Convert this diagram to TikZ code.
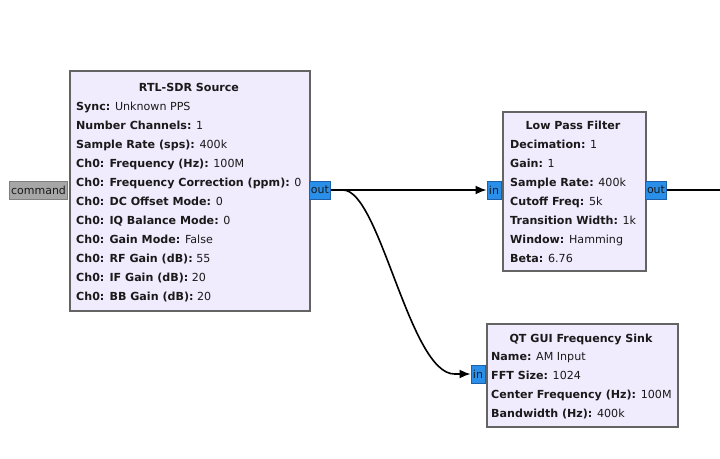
\documentclass[tikz,border=0pt]{standalone}
\usepackage{fontspec}
\setmainfont{DejaVu Sans}
\usetikzlibrary{arrows.meta,calc}
\definecolor{blkfill}{HTML}{F0EBFD}
\definecolor{blkline}{HTML}{646464}
\definecolor{portblue}{HTML}{2A8FE8}
\definecolor{portblueline}{HTML}{1D5FA8}
\definecolor{portgray}{HTML}{A6A6A6}
\definecolor{portgrayline}{HTML}{7F7F7F}
\definecolor{txt}{HTML}{1A1A1A}
\tikzset{
  blk/.style={draw=blkline, fill=blkfill, line width=2pt, anchor=north west, inner sep=0pt},
  lbl/.style={anchor=base west, inner sep=0pt, text=txt, font=\fontsize{11.1}{13}\selectfont},
  ttl/.style={anchor=base, inner sep=0pt, text=txt, font=\fontsize{11.1}{13}\selectfont\bfseries},
  bport/.style={draw=portblueline, fill=portblue, line width=1pt, inner sep=0pt, text=txt, font=\fontsize{11}{13}\selectfont},
  gport/.style={draw=portgrayline, fill=portgray, line width=1pt, inner sep=0pt, text=txt, font=\fontsize{11}{13}\selectfont},
  wire/.style={line width=1.6pt, draw=black},
  arr/.style={wire, -{Latex[length=11pt,width=9pt]}}
}
\begin{document}
\begin{tikzpicture}[x=1pt,y=-1pt]
\useasboundingbox[fill=white] (0,0) rectangle (720,458);
% RTL-SDR Source
\node[blk, minimum width=240pt, minimum height=240pt] (rtl) at (69,70) {};
\node[ttl] (rtlt) at (189,91) {RTL-SDR Source};
\node[lbl] (r1) at (76,110) {\textbf{Sync:} Unknown PPS};
\node[lbl] (r2) at (76,129) {\textbf{Number Channels:} 1};
\node[lbl] (r3) at (76,148) {\textbf{Sample Rate (sps):} 400k};
\node[lbl] (r4) at (76,167) {\textbf{Ch0: Frequency (Hz):} 100M};
\node[lbl] (r5) at (76,186) {\textbf{Ch0: Frequency Correction (ppm):} 0};
\node[lbl] (r6) at (76,205) {\textbf{Ch0: DC Offset Mode:} 0};
\node[lbl] (r7) at (76,224) {\textbf{Ch0: IQ Balance Mode:} 0};
\node[lbl] (r8) at (76,243) {\textbf{Ch0: Gain Mode:} False};
\node[lbl] (r9) at (76,262) {\textbf{Ch0: RF Gain (dB):} 55};
\node[lbl] (r10) at (76,281) {\textbf{Ch0: IF Gain (dB):} 20};
\node[lbl] (r11) at (76,300) {\textbf{Ch0: BB Gain (dB):} 20};
\node[gport, minimum width=58pt, minimum height=18pt] (cmd) at (38.5,190) {command};
\node[bport, minimum width=21pt, minimum height=18pt] (rtlout) at (320,190) {out};
% Low Pass Filter
\node[blk, minimum width=143pt, minimum height=159pt] (lpf) at (501.5,110.5) {};
\node[ttl] (lpft) at (573,129.5) {Low Pass Filter};
\node[lbl] (l1) at (510,148) {\textbf{Decimation:} 1};
\node[lbl] (l2) at (510,167) {\textbf{Gain:} 1};
\node[lbl] (l3) at (510,186) {\textbf{Sample Rate:} 400k};
\node[lbl] (l4) at (510,205) {\textbf{Cutoff Freq:} 5k};
\node[lbl] (l5) at (510,224) {\textbf{Transition Width:} 1k};
\node[lbl] (l6) at (510,243) {\textbf{Window:} Hamming};
\node[lbl] (l7) at (510,262) {\textbf{Beta:} 6.76};
\node[bport, minimum width=14pt, minimum height=18pt] (lpfin) at (494,190) {in};
\node[bport, minimum width=21pt, minimum height=18pt] (lpfout) at (656,190) {out};
\coordinate (lpfnext) at (720,190);
% QT GUI Frequency Sink
\node[blk, minimum width=191pt, minimum height=103pt] (qt) at (486,323) {};
\node[ttl] (qtt) at (581,342) {QT GUI Frequency Sink};
\node[lbl] (q1) at (491,360) {\textbf{Name:} AM Input};
\node[lbl] (q2) at (491,379) {\textbf{FFT Size:} 1024};
\node[lbl] (q3) at (491,398) {\textbf{Center Frequency (Hz):} 100M};
\node[lbl] (q4) at (491,417) {\textbf{Bandwidth (Hz):} 400k};
\node[bport, minimum width=14pt, minimum height=18pt] (qtin) at (478,374) {in};
% connections
\draw[arr] (rtlout.east) -- (lpfin.west);
\draw[wire] (lpfout.east) -- (lpfnext);
\draw[arr] (rtlout.east) -- ++(12,0) .. controls +(37,0) and +(-45,0) .. ($(qtin.west)+(-16,0)$) -- (qtin.west);
\end{tikzpicture}
\end{document}
